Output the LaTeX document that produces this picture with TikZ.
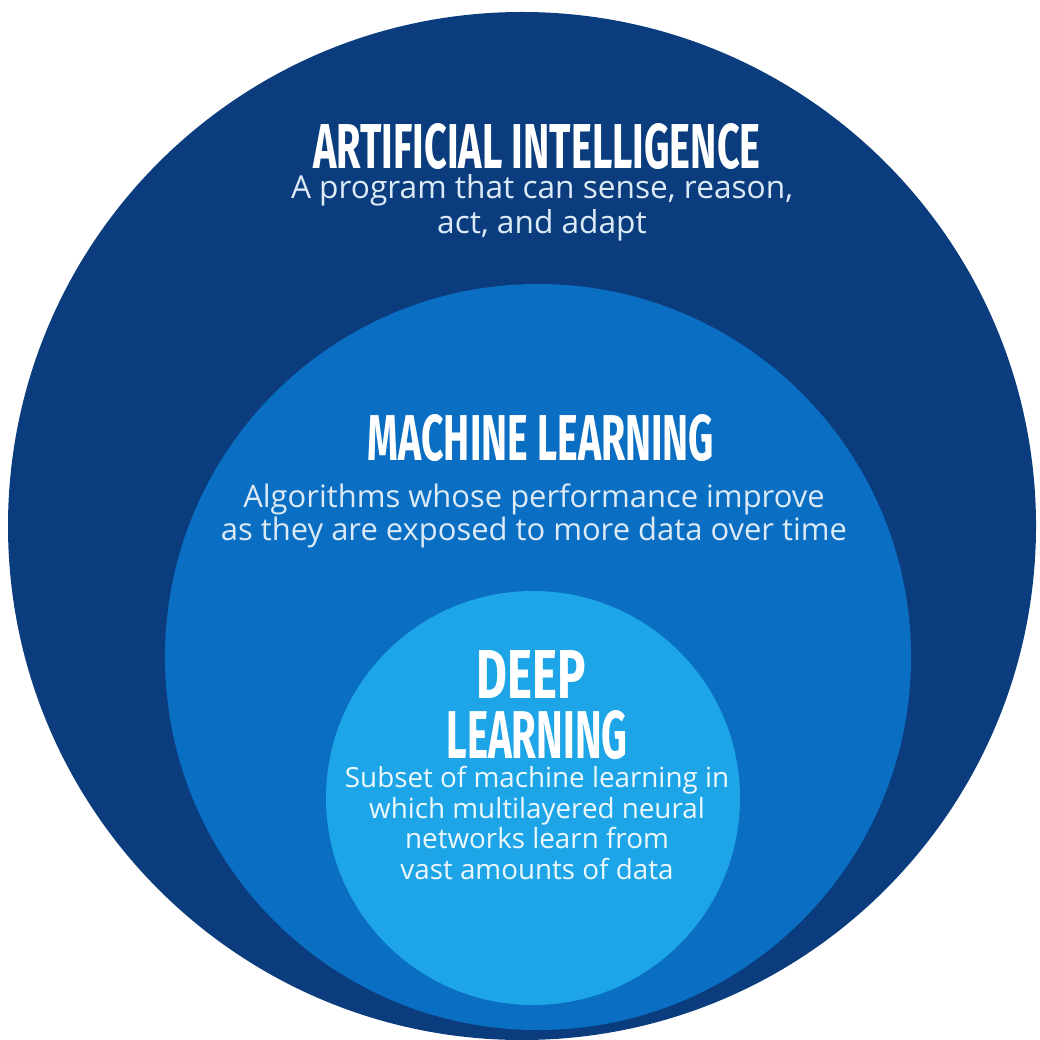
\documentclass[tikz,border=0pt]{standalone}
\usepackage{fontspec}
\usepackage{graphicx}
\setmainfont{Open Sans}
\newfontfamily\headfont{Fira Sans}
\definecolor{aiblue}{HTML}{0B3D7E}
\definecolor{mlblue}{HTML}{0A6EC3}
\definecolor{dlblue}{HTML}{1DA5E8}
\definecolor{blurbtext}{HTML}{DCEAF6}
\newcommand{\headline}[3]{\resizebox{#1}{#2}{\headfont\bfseries #3}}

\begin{document}
\begin{tikzpicture}
  [x=0.01cm,y=-0.01cm,
   head/.style={text=white,inner sep=0pt},
   blurb/.style={text=blurbtext,align=center,inner sep=0pt,font=\fontsize{9}{9.8}\selectfont}]
  \fill[white] (0,0) rectangle (1040,1040);
  \useasboundingbox (0,0) rectangle (1040,1040);
  \fill[aiblue] (522,526) circle (514);
  \fill[mlblue] (538,657) circle (373);
  \fill[dlblue] (533,798) circle (207);

  \node[head] (ai) at (537,147) {\headline{4.47cm}{0.45cm}{ARTIFICIAL INTELLIGENCE}};
  \node[blurb] (aitext) at (542,208) {A program that can sense, reason,\\act, and adapt};

  \node[head] (ml) at (541,438) {\headline{3.46cm}{0.46cm}{MACHINE LEARNING}};
  \node[blurb,font=\fontsize{8.8}{9.4}\selectfont] (mltext) at (534,516) {Algorithms whose performance improve\\as they are exposed to more data over time};

  \node[head] (deep) at (531,674) {\headline{1.09cm}{0.48cm}{DEEP}};
  \node[head] (dl) at (537,735) {\headline{1.81cm}{0.48cm}{LEARNING}};
  \node[blurb,text=white!92!dlblue,font=\fontsize{7.9}{8.8}\selectfont] (dltext) at (537,823) {Subset of machine learning in\\which multilayered neural\\networks learn from\\vast amounts of data};

\end{tikzpicture}
\end{document}
